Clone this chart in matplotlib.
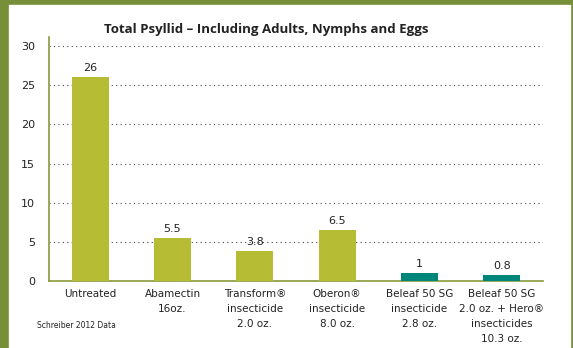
import matplotlib.pyplot as plt
from matplotlib.patches import Rectangle

categories = ["Untreated", "Abamectin\n16oz.", "Transform\u00ae\ninsecticide\n2.0 oz.",
              "Oberon\u00ae\ninsecticide\n8.0 oz.", "Beleaf 50 SG\ninsecticide\n2.8 oz.",
              "Beleaf 50 SG\n2.0 oz. + Hero\u00ae\ninsecticides\n10.3 oz."]
values = [26, 5.5, 3.8, 6.5, 1, 0.8]
value_labels = ["26", "5.5", "3.8", "6.5", "1", "0.8"]
colors = ["#b6bd34", "#b6bd34", "#b6bd34", "#b6bd34", "#00857a", "#00857a"]
yticks = [0, 5, 10, 15, 20, 25, 30]

plt.rcParams['font.family'] = ['DejaVu Sans']

fig = plt.figure(figsize=(5.73, 3.48), dpi=100)
W, H = 573, 348

# green frame
fig.patches.append(Rectangle((0, 0), 1, 1, transform=fig.transFigure, color="#768f38", zorder=-10))
fig.patches.append(Rectangle((9 / W, 0), (570 - 9) / W, (H - 5) / H, transform=fig.transFigure,
                             color="white", zorder=-9))

ax = fig.add_axes([49 / W, (H - 281) / H, (543 - 49) / W, (281 - 46) / H])
ax.set_zorder(5)
ax.set_facecolor("none")
x = range(len(categories))
ax.bar(x, values, width=0.45, color=colors, zorder=3)
for i, v in enumerate(values):
    ax.text(i, v + 0.5, value_labels[i], ha="center", va="bottom", fontsize=8, color="#222222")

ax.set_xlim(-0.5, 5.5)
ax.set_ylim(0, 30)
ax.set_yticks(yticks)
ax.set_yticklabels([str(t) for t in yticks], fontsize=8)
ax.set_xticks(list(x))
ax.set_xticklabels(categories, fontsize=7.5, linespacing=1.6, va="top")
ax.tick_params(axis="both", length=0, colors="#222222")
ax.tick_params(axis="y", pad=10)
ax.tick_params(axis="x", pad=6)

for t in yticks[1:]:
    ax.axhline(t, color="#444444", linestyle=(0, (1, 3)), linewidth=0.8, zorder=1)

for s in ["top", "right"]:
    ax.spines[s].set_visible(False)
for s in ["left", "bottom"]:
    ax.spines[s].set_color("#8a9a3c")
    ax.spines[s].set_linewidth(1.2)
ax.spines["left"].set_bounds(0, 31.2)

fig.text(266 / W, 1 - 30 / H, "Total Psyllid \u2013 Including Adults, Nymphs and Eggs",
         ha="center", va="center", fontsize=9.5, fontweight="bold", color="#222222",
         family=["Open Sans", "DejaVu Sans"])
fig.text(37 / W, 1 - 325 / H, "Schreiber 2012 Data", ha="left", va="center", fontsize=5.5,
         color="#222222")

fig.savefig("out.png", dpi=100)
